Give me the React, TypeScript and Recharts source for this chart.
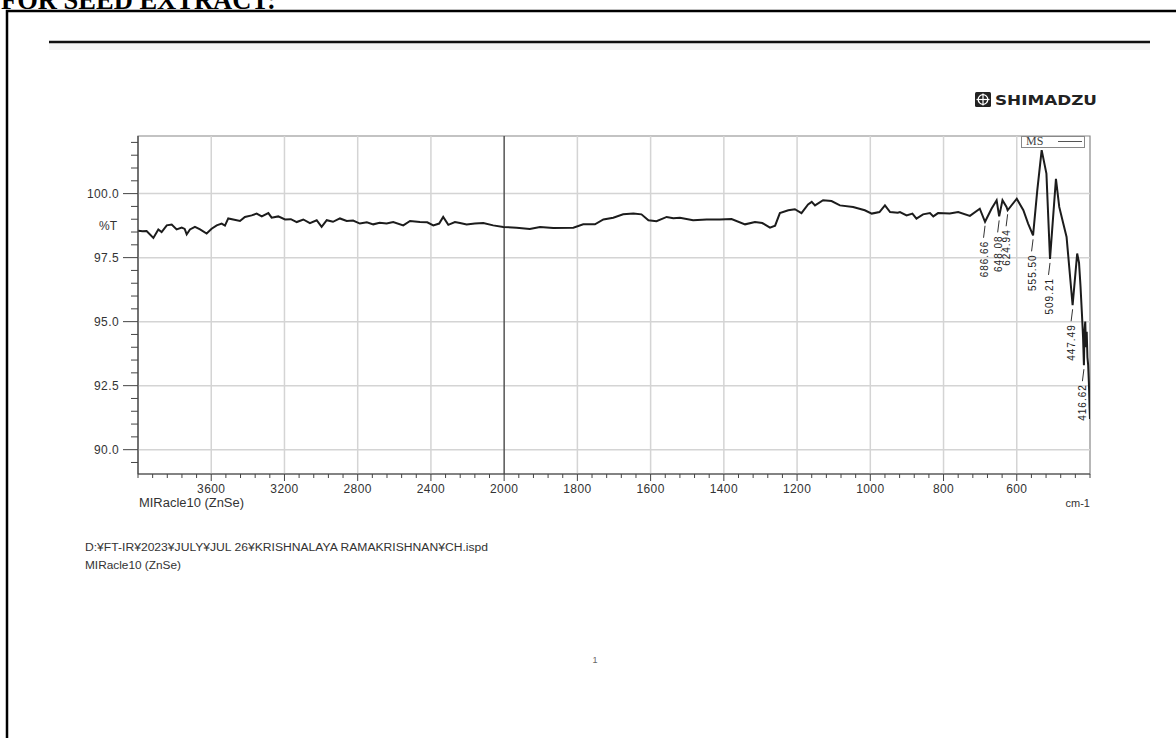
import React from 'react';
import {
  ComposedChart,
  Line,
  Scatter,
  XAxis,
  YAxis,
  ReferenceLine,
  ReferenceArea,
  Legend,
} from 'recharts';

// ---- data (wavenumber cm-1, %T) ----
const wavenumbers = [
  4000, 3975, 3953, 3916, 3889, 3871, 3843, 3816, 3789, 3761, 3745, 3734, 3716, 3689, 3661, 3625,
  3598, 3570, 3543, 3525, 3507, 3480, 3443, 3416, 3379, 3352, 3324, 3288, 3270, 3234, 3197, 3165,
  3133, 3097, 3061, 3024, 2997, 2969, 2935, 2897, 2860, 2825, 2788, 2750, 2715, 2680, 2642, 2606,
  2551, 2514, 2460, 2420, 2387, 2355, 2333, 2305, 2269, 2241, 2205, 2160, 2114, 2060, 2005, 1966,
  1930, 1902, 1866, 1811, 1784, 1752, 1729, 1702, 1675, 1647, 1625, 1606, 1584, 1556, 1538, 1520,
  1484, 1447, 1411, 1379, 1342, 1315, 1295, 1274, 1260, 1247, 1224, 1206, 1188, 1170, 1160, 1151,
  1129, 1106, 1083, 1047, 1015, 996, 975, 960, 946, 925, 919, 901, 885, 874, 856, 837,
  828, 815, 783, 760, 728, 701, 686.66, 669, 655, 648.08, 639, 628, 624.94, 600, 582, 569,
  555.5, 544, 532, 519, 509.21, 493, 484, 473, 464, 447.49, 435, 430, 426, 422, 419, 416.62,
  415, 413, 411, 409, 407, 405, 403, 401, 400,
];
const transmittance = [
  98.55, 98.53, 98.54, 98.27, 98.6, 98.5, 98.76, 98.79, 98.6, 98.67, 98.62, 98.41, 98.6, 98.7, 98.6, 98.44,
  98.63, 98.76, 98.83, 98.75, 99.03, 98.99, 98.93, 99.09, 99.15, 99.22, 99.11, 99.24, 99.06, 99.11, 98.99, 99.0,
  98.89, 98.99, 98.85, 98.96, 98.7, 98.96, 98.9, 99.03, 98.93, 98.95, 98.83, 98.88, 98.8, 98.86, 98.83, 98.89,
  98.76, 98.93, 98.89, 98.88, 98.76, 98.83, 99.09, 98.78, 98.89, 98.85, 98.79, 98.83, 98.85, 98.76, 98.7, 98.67,
  98.62, 98.7, 98.66, 98.67, 98.8, 98.8, 98.99, 99.06, 99.19, 99.22, 99.19, 98.96, 98.92, 99.09, 99.04, 99.06,
  98.96, 98.99, 98.99, 99.01, 98.8, 98.89, 98.85, 98.67, 98.75, 99.24, 99.35, 99.39, 99.24, 99.58, 99.68, 99.54,
  99.74, 99.71, 99.54, 99.48, 99.35, 99.22, 99.28, 99.54, 99.28, 99.25, 99.28, 99.15, 99.22, 99.02, 99.19, 99.24,
  99.11, 99.24, 99.22, 99.28, 99.13, 99.41, 98.9, 99.41, 99.74, 99.11, 99.74, 99.48, 99.35, 99.8, 99.35, 98.83,
  98.37, 100.13, 101.7, 100.78, 97.45, 100.58, 99.48, 98.83, 98.31, 95.64, 97.66, 97.3, 96.4, 95.3, 94.4, 93.3,
  94.6, 95.0, 94.0, 94.6, 93.6, 93.3, 92.6, 91.6, 91.2,
];

const peakWavenumbers = [686.66, 648.08, 624.94, 555.5, 509.21, 447.49, 416.62];
const peakTransmittance = [98.9, 99.11, 99.35, 98.37, 97.45, 95.64, 93.3];

const xMajorTicks = [3600, 3200, 2800, 2400, 2000, 1800, 1600, 1400, 1200, 1000, 800, 600];
const yMajorTicks = [90, 92.5, 95, 97.5, 100];
const seriesName = 'MS';
const xAxisCaption = 'MIRacle10 (ZnSe)';
const xUnit = 'cm-1';
const yUnit = '%T';
const filePath = 'D:¥FT-IR¥2023¥JULY¥JUL 26¥KRISHNALAYA RAMAKRISHNAN¥CH.ispd';
const accessory = 'MIRacle10 (ZnSe)';

// Shimadzu plots use a half-scale above 2000 cm-1
const toPos = (w: number) => (w > 2000 ? 2000 + (w - 2000) / 2 : w);
const fromPos = (p: number) => (p > 2000 ? 2000 + (p - 2000) * 2 : p);

const spectrum = wavenumbers.map((w, i) => ({ pos: toPos(w), t: transmittance[i] }));
const peaks = peakWavenumbers.map((w, i) => ({
  pos: toPos(w),
  t: peakTransmittance[i],
  label: w.toFixed(2),
}));

const X_MIN = 400;
const X_MAX = 3000;
const Y_MIN = 89.05;
const Y_MAX = 102.25;

const xTicks: number[] = [];
for (let p = X_MIN; p <= X_MAX; p += 40) xTicks.push(p);
const yTicks: number[] = [];
for (let k = 179; k <= 204; k++) yTicks.push(k / 2);

const SANS = "'Liberation Sans', Arial, sans-serif";
const TEXT = '#333';

const XTick = (props: any) => {
  const { x, y, payload } = props;
  const w = Math.round(fromPos(payload.value));
  const major = xMajorTicks.includes(w);
  return (
    <g>
      <line x1={x} x2={x} y1={y} y2={y + (major ? 7 : 4)} stroke="#444" strokeWidth={1} />
      {major && (
        <text x={x} y={y + 19} textAnchor="middle" fontSize={12} letterSpacing={0.4} fill={TEXT} fontFamily={SANS}>
          {w}
        </text>
      )}
    </g>
  );
};

const YTick = (props: any) => {
  const { x, y, payload } = props;
  const v = payload.value;
  const major = yMajorTicks.some((m) => Math.abs(m - v) < 1e-6);
  return (
    <g>
      <line x1={x - (major ? 15 : 7)} x2={x} y1={y} y2={y} stroke="#444" strokeWidth={1} />
      {major && (
        <text x={x - 19} y={y + 4} textAnchor="end" fontSize={12} letterSpacing={0.4} fill={TEXT} fontFamily={SANS}>
          {v.toFixed(1)}
        </text>
      )}
    </g>
  );
};

const PeakLabel = (props: any) => {
  const { cx, cy, payload } = props;
  if (cx == null || cy == null) return null;
  const top = cy + 4;
  return (
    <g>
      <line x1={cx} y1={top} x2={cx - 1.5} y2={top + 12} stroke="#333" strokeWidth={1} />
      <text
        transform={`translate(${cx + 2.5},${top + 15}) rotate(-90)`}
        textAnchor="end"
        fontSize={10}
        letterSpacing={1}
        fill="#222"
        fontFamily={SANS}
      >
        {payload.label}
      </text>
    </g>
  );
};

const LegendBox = () => (
  <div
    style={{
      boxSizing: 'border-box',
      width: 64,
      height: 12,
      border: '1px solid #888',
      position: 'relative',
      background: '#fff',
    }}
  >
    <span
      style={{
        position: 'absolute',
        left: 4,
        top: -3,
        fontFamily: "'Liberation Serif', serif",
        fontSize: 12,
        lineHeight: '14px',
        color: '#444',
      }}
    >
      {seriesName}
    </span>
    <div style={{ position: 'absolute', left: 36, top: 4, width: 24, borderTop: '1.5px solid #555' }} />
  </div>
);

const XCaption = (props: any) => {
  const vb = props.viewBox || {};
  return (
    <g>
      <text x={vb.x + 1} y={vb.y + 33} fontSize={12} fill={TEXT} fontFamily={SANS} textLength={105} lengthAdjust="spacingAndGlyphs">
        {xAxisCaption}
      </text>
      <text x={vb.x + vb.width} y={vb.y + 33} textAnchor="end" fontSize={11} fill={TEXT} fontFamily={SANS}>
        {xUnit}
      </text>
    </g>
  );
};

const YCaption = (props: any) => {
  const vb = props.viewBox || {};
  return (
    <text x={vb.x + vb.width - 30} y={vb.y + vb.height * 0.265 + 4} textAnchor="middle" fontSize={12} fill={TEXT} fontFamily={SANS}>
      {yUnit}
    </text>
  );
};

export default function App() {
  return (
    <div style={{ position: 'absolute', left: 0, top: 0, width: 1176, height: 738, background: '#fff', overflow: 'hidden' }}>
      <svg width={1176} height={738} style={{ position: 'absolute', left: 0, top: 0 }}>
        <text x={1} y={9} fontFamily="'Liberation Serif', 'Times New Roman', serif" fontWeight="bold" fontSize={26.5} fill="#000">
          FOR SEED EXTRACT:
        </text>
        <path d="M7,745 V11 H1185" fill="none" stroke="#000" strokeWidth={2.5} />
        <rect x={49} y={43} width={1101} height={7} fill="#f6f6f6" />
        <line x1={49} x2={1150} y1={42} y2={42} stroke="#111" strokeWidth={2.5} />
        {/* SHIMADZU logo */}
        <g>
          <rect x={975} y={92} width={16} height={15} rx={1.5} fill="#222" />
          <circle cx={983} cy={99.5} r={4.8} fill="none" stroke="#fff" strokeWidth={1.3} />
          <line x1={983} x2={983} y1={93.5} y2={105.5} stroke="#fff" strokeWidth={1.2} />
          <line x1={976.5} x2={989.5} y1={99.5} y2={99.5} stroke="#fff" strokeWidth={1.2} />
          <text x={995} y={104.5} fontFamily="'DejaVu Sans', sans-serif" fontWeight="bold" fontSize={14} fill="#222" textLength={102} lengthAdjust="spacingAndGlyphs">
            SHIMADZU
          </text>
        </g>
        <text x={85} y={550.5} fontFamily={SANS} fontSize={10} fill="#333" textLength={403} lengthAdjust="spacingAndGlyphs">
          {filePath}
        </text>
        <text x={85} y={569} fontFamily={SANS} fontSize={10} fill="#333" textLength={96} lengthAdjust="spacingAndGlyphs">
          {accessory}
        </text>
        <text x={595} y={663} textAnchor="middle" fontFamily={SANS} fontSize={9} fill="#666">
          1
        </text>
      </svg>
      <div style={{ position: 'absolute', left: 0, top: 0 }}>
        <ComposedChart
          width={1176}
          height={738}
          data={spectrum}
          margin={{ top: 136, right: 86, bottom: 224, left: 78 }}
        >
          <XAxis
            type="number"
            dataKey="pos"
            domain={[X_MIN, X_MAX]}
            reversed
            allowDataOverflow
            ticks={xTicks}
            interval={0}
            tickSize={0}
            tickMargin={0}
            tickLine={false}
            tick={<XTick />}
            height={40}
            axisLine={{ stroke: '#444', strokeWidth: 1.2 }}
            label={<XCaption />}
          />
          <YAxis
            type="number"
            domain={[Y_MIN, Y_MAX]}
            allowDataOverflow
            ticks={yTicks}
            interval={0}
            tickSize={0}
            tickMargin={0}
            tickLine={false}
            tick={<YTick />}
            width={60}
            axisLine={{ stroke: '#444', strokeWidth: 1.2 }}
            label={<YCaption />}
          />
          {yMajorTicks.map((v) => (
            <ReferenceLine key={'y' + v} y={v} stroke="#d4d4d4" strokeWidth={1.5} />
          ))}
          {xMajorTicks.map((w) => (
            <ReferenceLine
              key={'x' + w}
              x={toPos(w)}
              stroke={w === 2000 ? '#555' : '#d4d4d4'}
              strokeWidth={1.5}
            />
          ))}
          <ReferenceArea x1={X_MIN} x2={X_MAX} y1={Y_MIN} y2={Y_MAX} fill="none" stroke="#888" strokeWidth={1.2} ifOverflow="visible" />
          <Line
            type="linear"
            dataKey="t"
            name={seriesName}
            stroke="#1c1c1c"
            strokeWidth={2}
            dot={false}
            activeDot={false}
            isAnimationActive={false}
          />
          <Scatter data={peaks} dataKey="t" shape={<PeakLabel />} isAnimationActive={false} legendType="none" />
          <Legend
            layout="vertical"
            align="center"
            verticalAlign="middle"
            wrapperStyle={{ position: 'absolute', left: 1021, top: 136, width: 64, height: 12, margin: 0, padding: 0 }}
            content={() => <LegendBox />}
          />
        </ComposedChart>
      </div>
    </div>
  );
}
